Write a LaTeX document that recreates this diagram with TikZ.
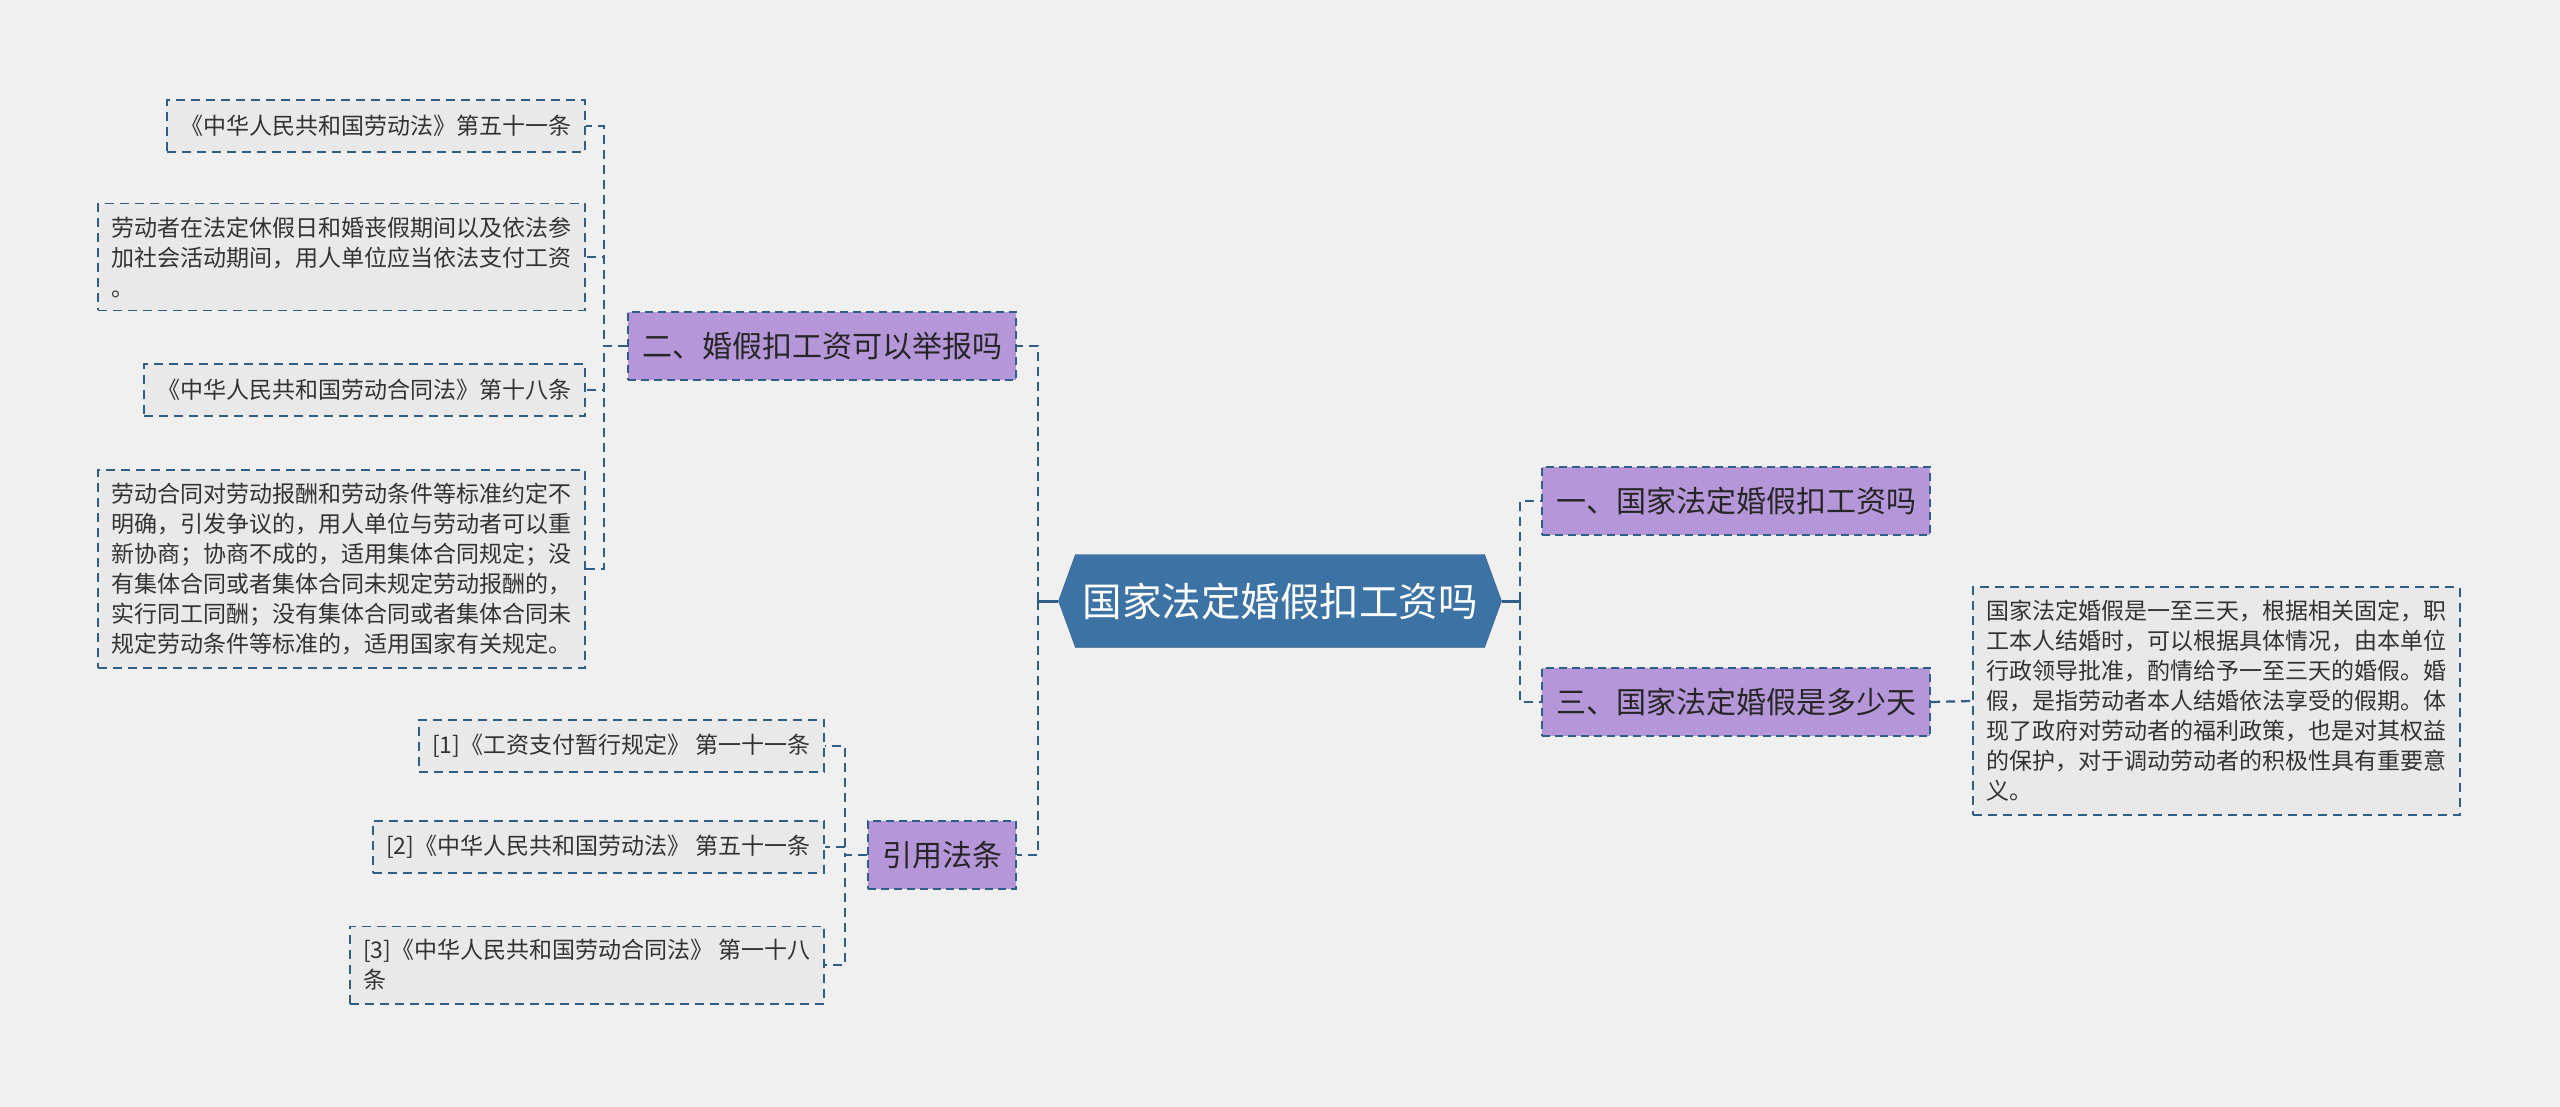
\documentclass[tikz,border=0pt]{standalone}
\usepackage{fontspec}
\setmainfont{Noto Sans CJK SC}
\usetikzlibrary{shapes.symbols}
\definecolor{paper}{RGB}{240,240,240}
\definecolor{leafgray}{RGB}{233,233,233}
\definecolor{lilac}{RGB}{181,151,217}
\definecolor{steel}{RGB}{61,115,164}
\definecolor{edgeblue}{RGB}{47,94,134}
\definecolor{ink}{RGB}{51,51,51}

\begin{document}
\begin{tikzpicture}[x=1pt,y=-1pt,
    leaf/.style={draw=edgeblue,line width=1.8pt,dash pattern=on 9pt off 6pt,fill=leafgray,text=ink,
      font=\fontsize{23}{30}\selectfont,align=left,inner xsep=13.5pt,inner ysep=13pt,minimum height=52pt},
    branch/.style={draw=edgeblue,line width=2pt,dash pattern=on 8pt off 5pt,fill=lilac,text=black!85,
      font=\fontsize{30}{36}\selectfont,inner xsep=14pt,minimum height=68pt},
    link/.style={draw=edgeblue,line width=2.2pt,dash pattern=on 9pt off 6pt},
    stem/.style={draw=edgeblue,line width=3pt}]
        \fill[paper] (0,0) rectangle (2560,1107);
        \useasboundingbox (0,0) rectangle (2560,1107);
        \node[signal,signal to=west and east,signal pointer angle=140,fill=steel,draw=edgeblue,text=white,
          font=\fontsize{39.5}{44}\selectfont,minimum width=443pt,minimum height=93pt,inner sep=0pt] (root) at (1280,601) {国家法定婚假扣工资吗};
        \node[branch,anchor=west] (one) at (1541,501) {一、国家法定婚假扣工资吗};
        \node[branch,anchor=west] (three) at (1541,702) {三、国家法定婚假是多少天};
        \node[branch,anchor=east] (two) at (1017,346) {二、婚假扣工资可以举报吗};
        \node[branch,anchor=east] (cite) at (1017,855) {引用法条};
        \node[leaf,anchor=west] (days) at (1972,701) {国家法定婚假是一至三天，根据相关固定，职\\工本人结婚时，可以根据具体情况，由本单位\\行政领导批准，酌情给予一至三天的婚假。婚\\假，是指劳动者本人结婚依法享受的假期。体\\现了政府对劳动者的福利政策，也是对其权益\\的保护，对于调动劳动者的积极性具有重要意\\义。};
        \node[leaf,anchor=east] (law51) at (586,126) {《中华人民共和国劳动法》第五十一条};
        \node[leaf,anchor=east] (rest) at (586,257) {劳动者在法定休假日和婚丧假期间以及依法参\\加社会活动期间，用人单位应当依法支付工资\\。};
        \node[leaf,anchor=east] (law18) at (586,390) {《中华人民共和国劳动合同法》第十八条};
        \node[leaf,anchor=east] (terms) at (586,569) {劳动合同对劳动报酬和劳动条件等标准约定不\\明确，引发争议的，用人单位与劳动者可以重\\新协商；协商不成的，适用集体合同规定；没\\有集体合同或者集体合同未规定劳动报酬的，\\实行同工同酬；没有集体合同或者集体合同未\\规定劳动条件等标准的，适用国家有关规定。};
        \node[leaf,anchor=east] (ref1) at (825,746) {[1]《工资支付暂行规定》 第一十一条};
        \node[leaf,anchor=east] (ref2) at (825,847) {[2]《中华人民共和国劳动法》 第五十一条};
        \node[leaf,anchor=east] (ref3) at (825,965) {[3]《中华人民共和国劳动合同法》 第一十八\\条};
        \coordinate (lhub) at (1038,601);
        \coordinate (rhub) at (1520,601);
        \draw[stem] (root.west) -- (lhub);
        \draw[stem] (root.east) -- (rhub);
        \foreach \n in {two,cite}
            \draw[link] (lhub) |- (\n.east);
        \foreach \n in {one,three}
            \draw[link] (rhub) |- (\n.west);
        \foreach \n in {law51,rest,law18,terms}
            \draw[link] (two.west) -- ++(-23,0) |- (\n.east);
        \foreach \n in {ref1,ref2,ref3}
            \draw[link] (cite.west) -- ++(-22,0) |- (\n.east);
        \draw[link] (three.east) -- (days.west);
      \end{tikzpicture}
\end{document}
